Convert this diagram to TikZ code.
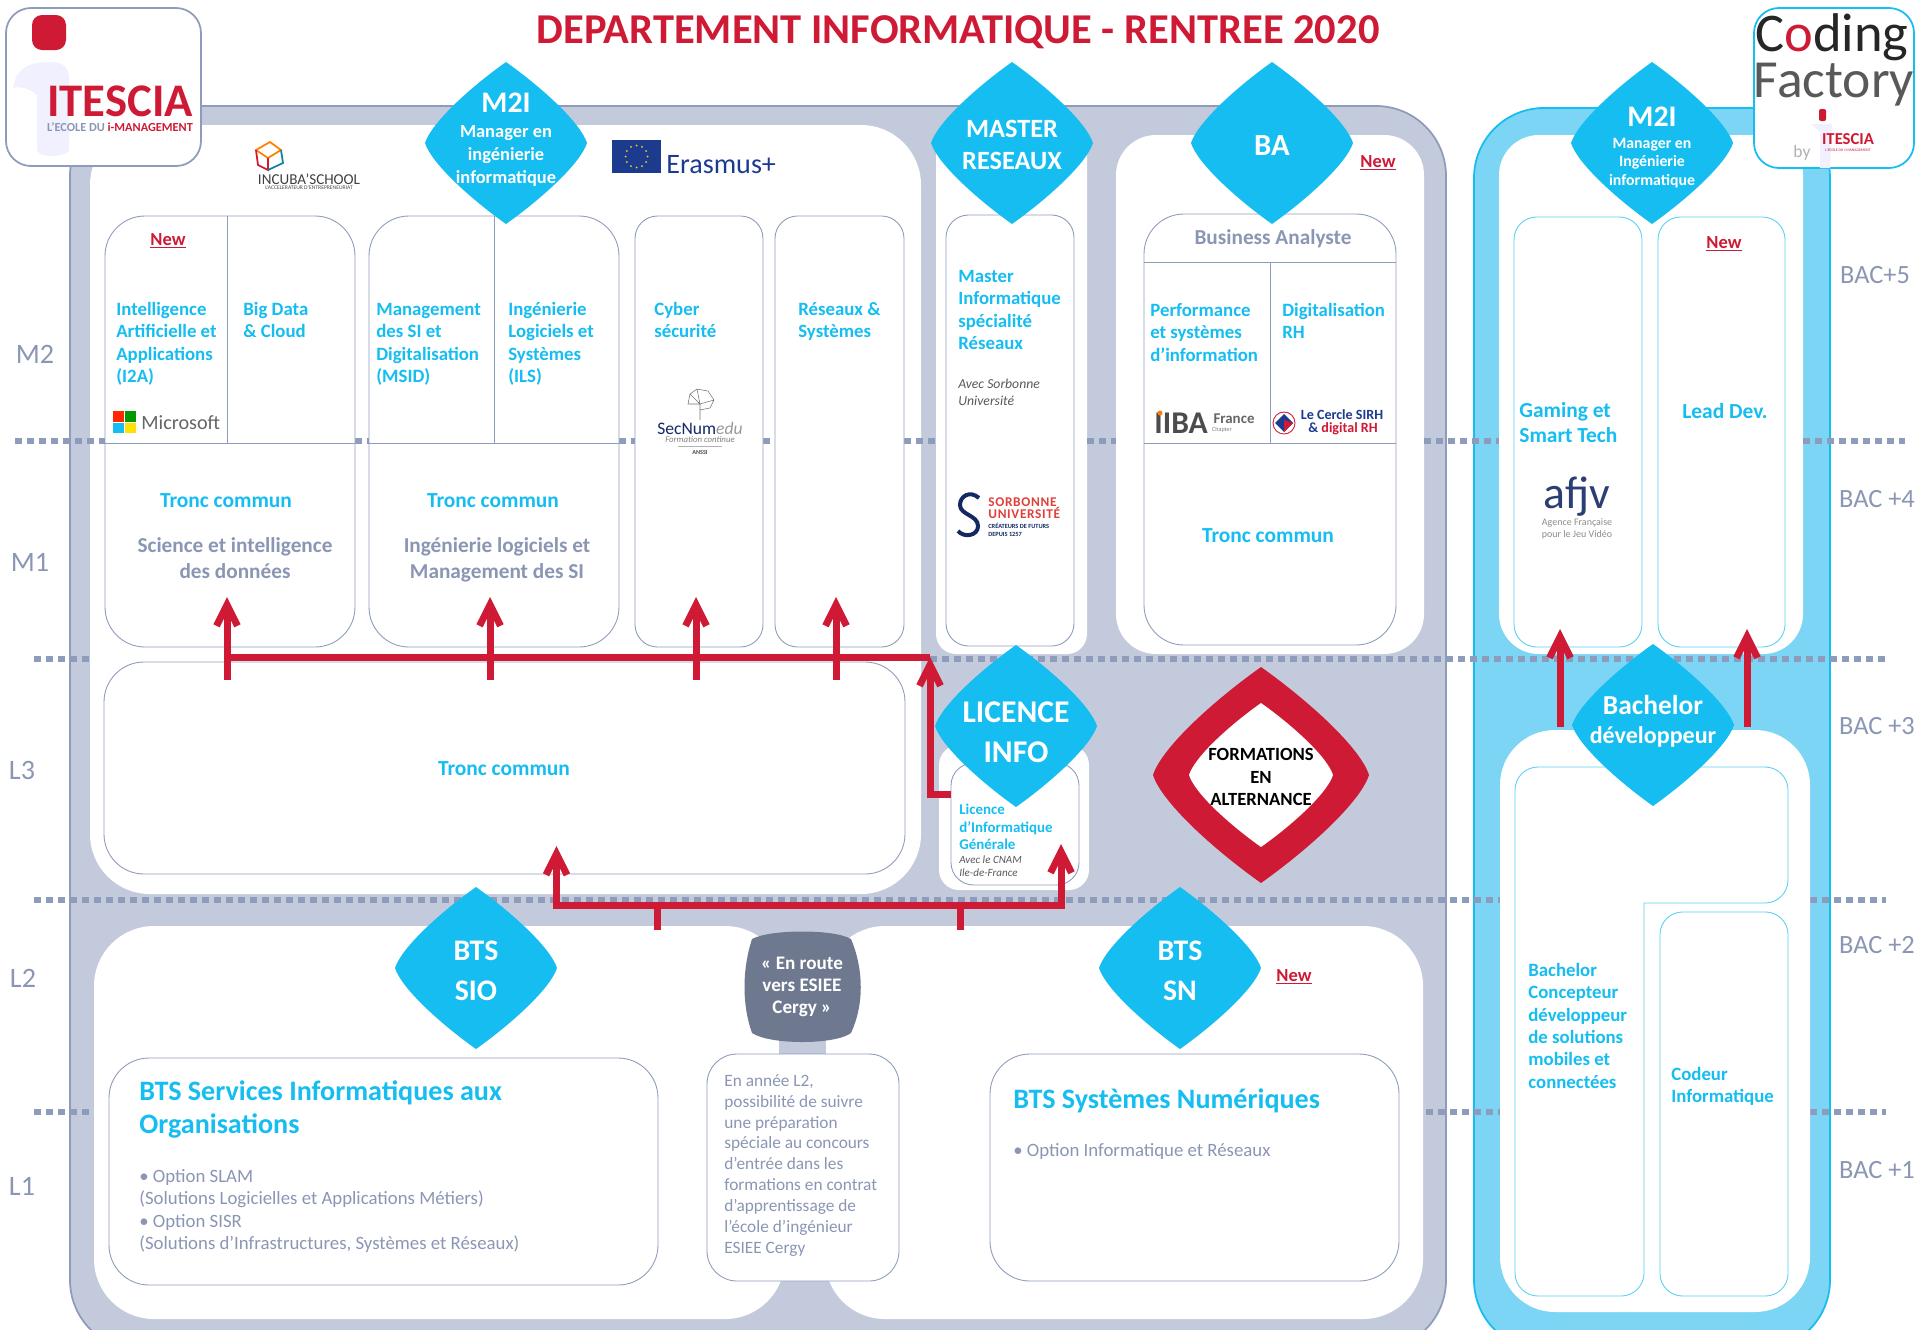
\documentclass[tikz,border=0pt]{standalone}
\usepackage{fontspec}
\setmainfont{Carlito}
\usetikzlibrary{arrows.meta}
\definecolor{panelgray}{HTML}{C3CADB}
\definecolor{edgegray}{HTML}{8E9CBC}
\definecolor{labelgray}{HTML}{8A96B4}
\definecolor{skyc}{HTML}{15BDF0}
\definecolor{panelsky}{HTML}{7DD5F5}
\definecolor{redc}{HTML}{CE1A34}
\definecolor{sorbred}{HTML}{E1403A}
\definecolor{slatec}{HTML}{6E788F}
\definecolor{navyc}{HTML}{1C3B8F}
\newcommand{\leaf}[4]{\fill[shift={(#1,#2)},x=#3*0.02cm,y=#3*-0.02cm,#4] (0,-1) .. controls (0.45,-0.68) and (0.92,-0.25) .. (1,0) .. controls (0.92,0.25) and (0.45,0.68) .. (0,1) .. controls (-0.45,0.68) and (-0.92,0.25) .. (-1,0) .. controls (-0.92,-0.25) and (-0.45,-0.68) .. (0,-1) -- cycle;}
\newcommand{\fsz}[2]{\fontsize{#1}{#2}\selectfont}
\begin{document}
\begin{tikzpicture}
    [
    x=0.02cm,y=-0.02cm,
    dots/.style = {edgegray,line width=0.12cm,dash pattern=on 0.14cm off 0.1cm},
    board/.style = {fill=white,rounded corners=#1},
    board/.default = 0.8cm,
    box/.style = {draw=edgegray,line width=0.5pt,fill=white,rounded corners=#1},
    box/.default = 0.8cm,
    skybox/.style = {draw=skyc!70,line width=0.5pt,fill=white,rounded corners=0.45cm},
    skyline/.style = {draw=skyc!70,line width=0.5pt,fill=white},
    link/.style = {redc,line width=0.14cm},
    linkto/.style = {link,-{Straight Barb[length=0.42cm,width=0.42cm]}},
    txt/.style = {inner sep=0pt,align=left,anchor=north west},
    mid/.style = {inner sep=0pt,align=center},
    sky/.style = {txt,text=skyc,font=\bfseries\fsz{10.7}{12.7}},
    skymid/.style = {mid,text=skyc,font=\bfseries\fsz{12.2}{14}},
    grayb/.style = {mid,text=labelgray,font=\bfseries\fsz{12.1}{14.5}},
    grayr/.style = {txt,text=labelgray,font=\fsz{10.7}{12.8}},
    side/.style = {mid,text=labelgray,font=\fsz{16}{18}},
    bac/.style = {mid,text=labelgray,font=\fsz{15}{16}},
    new/.style = {mid,text=redc,font=\bfseries\fsz{10.5}{11}},
    leaftxt/.style = {mid,text=white,font=\bfseries\fsz{#1}{#1}},
    tiny/.style = {mid,font=\fsz{#1}{#1}}
    ]
\clip (0,0) rectangle (1920,1329);

% panels
\draw[draw=edgegray,line width=1pt,fill=panelgray,rounded corners=1.4cm] (70,106) rectangle (1446,1350);
\draw[draw=skyc,line width=1pt,fill=panelsky,rounded corners=1.4cm] (1474,108) rectangle (1830,1350);

\foreach \yy/\xa/\xb in {659/34/90,659/930/1886,900/34/1500,900/1810/1886,1112/34/90,1112/1426/1500,1112/1810/1886}
    \draw[dots] (\xa,\yy) -- (\xb,\yy);

\fill[board=1.2cm] (90,125) rectangle (921,894);
\fill[board=0.4cm] (936,125) rectangle (1087,654);
\fill[board=0.8cm] (1116,135) rectangle (1424,654);
\fill[board=0.4cm] (939,745) rectangle (1089,890);
\fill[board=1.2cm] (94,926) rectangle (785,1319);
\fill[board=1.2cm] (825,926) rectangle (1423,1319);
\fill[board=0.8cm] (1499,135) rectangle (1803,654);
\fill[board=1.1cm] (1500,730) rectangle (1810,1312);

\foreach \xa/\xb in {15/105,355/369,619/635,763/775,904/936,1087/1116,1424/1499,1803/1905}
    \draw[dots] (\xa,441) -- (\xb,441);

% boxes
\draw[box] (105,216) rectangle (355,647);
\draw[edgegray] (105,443) -- (355,443) (227,216) -- (227,443);
\draw[box] (369,216) rectangle (619,647);
\draw[edgegray] (369,443) -- (619,443) (494,216) -- (494,443);
\draw[box=0.45cm] (635,216) rectangle (763,647);
\draw[box=0.45cm] (775,216) rectangle (904,647);
\draw[box=0.45cm] (946,215) rectangle (1074,646);
\draw[box] (1144,214) rectangle (1396,645);
\draw[edgegray] (1144,262) -- (1396,262) (1144,443) -- (1396,443) (1270,262) -- (1270,443);
\draw[box] (104,662) rectangle (905,874);
\draw[box=0.45cm] (951,763) rectangle (1079,885);
\draw[box] (109,1058) rectangle (658,1285);
\draw[box] (990,1054) rectangle (1399,1281);
\draw[skybox] (1514,217) rectangle (1642,647);
\draw[skybox] (1658,217) rectangle (1785,647);
\draw[skyline] (1515,790) arc[start angle=180,end angle=270,radius=23] -- (1765,767) arc[start angle=270,end angle=360,radius=23] -- (1788,880) arc[start angle=0,end angle=90,radius=23] -- (1644,903) -- (1644,1273) arc[start angle=0,end angle=90,radius=23] -- (1538,1296) arc[start angle=90,end angle=180,radius=23] -- cycle;
\draw[skybox] (1660,912) rectangle (1788,1296);

% en route
\fill[panelgray] (779,1035) rectangle (826,1056);
\draw[box=0.6cm] (707,1054) rectangle (899,1281);
\fill[slatec] (752,939) .. controls (770,929) and (835,929) .. (851,939) .. controls (864,970) and (864,1005) .. (851,1033) .. controls (835,1045) and (770,1045) .. (752,1033) .. controls (742,1005) and (742,970) .. (752,939) -- cycle;

% links
\coordinate (trunkw) at (227,657);
\coordinate (trunke) at (930,657);
\coordinate (licw) at (951,794);
\coordinate (sio) at (657.5,930);
\coordinate (sn) at (960,930);
\coordinate (lowa) at (556.5,905);
\coordinate (lowb) at (1061,905);
\coordinate (lowatip) at (556.5,846);
\coordinate (lowbtip) at (1061,844);
\coordinate (concep) at (1560,727);
\coordinate (concepb) at (1747,727);
\coordinate (gaming tip) at (1560,629);
\coordinate (lead tip) at (1747,629);
\foreach \xx/\nm in {227/sci,490/ing,696/cyb,836/res}{
    \coordinate (\nm foot) at (\xx,680);
    \coordinate (\nm tip) at (\xx,597);
    \draw[linkto] (\nm foot) -- (\nm tip);
}
\draw[link] (trunkw) -- (trunke);
\draw[linkto] (licw) -| (trunke);
\draw[link] (sio) -- (sio |- lowa);
\draw[link] (sn) -- (sn |- lowa);
\draw[linkto] (lowb) -- (lowbtip);
\draw[linkto] (lowa) -- (lowatip);
\draw[link,line cap=rect] (lowa) -- (lowb);
\draw[linkto] (concep) -- (gaming tip);
\draw[linkto] (concepb) -- (lead tip);

% leaves
\leaf{506}{143}{81}{skyc}
\leaf{1012}{143}{81}{skyc}
\leaf{1272}{143}{81}{skyc}
\leaf{1652}{143}{81}{skyc}
\leaf{1016}{726}{81}{skyc}
\leaf{476}{968}{81}{skyc}
\leaf{1180}{968}{81}{skyc}
\leaf{1653}{725}{81}{skyc}
\leaf{1261}{775}{108}{redc}
\leaf{1261}{775}{72}{white}

% title and levels
\node[mid,text=redc,font=\bfseries\fsz{24.2}{26}] (title) at (958,32) {DEPARTEMENT INFORMATIQUE - RENTREE 2020};
\node[side] (mtwo) at (35,354) {M2};
\node[side] (mone) at (30,562) {M1};
\node[side] (lthree) at (22,770) {L3};
\node[side] (ltwo) at (23,978) {L2};
\node[side] (lone) at (22,1186) {L1};
\node[bac] (bfive) at (1875,275) {BAC+5};
\node[bac] (bfour) at (1877,499) {BAC +4};
\node[bac] (bthree) at (1877,726) {BAC +3};
\node[bac] (btwo) at (1877,945) {BAC +2};
\node[bac] (bone) at (1877,1170) {BAC +1};

% leaf texts
\node[leaftxt=17] (mtitle) at (506,103) {M2I};
\node[leaftxt=10.5] (msub) at (506,156) {Manager en\\[2.5pt]ingénierie\\[2.5pt]informatique};
\node[leaftxt=15] (master) at (1012,145) {MASTER\\[3.5pt]RESEAUX};
\node[leaftxt=17.5] (ba) at (1272,146) {BA};
\node[leaftxt=17] (mrtitle) at (1652,117) {M2I};
\node[leaftxt=9] (mrsub) at (1652,163) {Manager en\\[1.5pt]Ingénierie\\[1.5pt]informatique};
\node[leaftxt=18] (licence) at (1016,732) {LICENCE\\[4.5pt]INFO};
\node[leaftxt=17] (sioname) at (476,971) {BTS\\[5.5pt]SIO};
\node[leaftxt=17] (snname) at (1180,971) {BTS\\[5.5pt]SN};
\node[leaftxt=15.6] (bachelor) at (1653,705) {Bachelor};
\node[leaftxt=13.7] (devel) at (1653,737) {développeur};
\node[mid,text=black,font=\bfseries\fsz{10.6}{12.8}] (altern) at (1261,777) {FORMATIONS\\EN\\ALTERNANCE};
\node[mid,text=white,font=\bfseries\fsz{10.9}{12.7}] (route) at (802,987) {« En route\\vers ESIEE\\Cergy »};

% new
\node[new] (newa) at (168,241) {\underline{New}};
\node[new] (newb) at (1378,163) {\underline{New}};
\node[new] (newc) at (1724,244) {\underline{New}};
\node[new] (newd) at (1294,977) {\underline{New}};

% box texts
\node[sky] (iia) at (116,302) {Intelligence\\Artificielle et\\Applications\\(I2A)};
\node[sky] (bigd) at (243,302) {Big Data\\\& Cloud};
\node[sky] (msid) at (376,303) {Management\\des SI et\\Digitalisation\\(MSID)};
\node[sky] (ils) at (508,302) {Ingénierie\\Logiciels et\\Systèmes\\(ILS)};
\node[sky] (cyber) at (654,302) {Cyber\\sécurité};
\node[sky] (resys) at (798,302) {Réseaux \&\\Systèmes};
\node[skymid] (troncsci) at (226,501) {Tronc commun};
\node[grayb] (scidon) at (235,558) {Science et intelligence\\des données};
\node[skymid] (troncing) at (493,501) {Tronc commun};
\node[grayb] (inglog) at (497,560) {Ingénierie logiciels et\\Management des SI};
\node[skymid] (troncl) at (504,769) {Tronc commun};
\node[sky] (minfo) at (958,270) {Master\\Informatique\\spécialité\\Réseaux};
\node[txt,text=black!65,font=\itshape\fsz{7.8}{9.2}] (avec) at (958,379) {Avec Sorbonne\\Université};
\node[grayb] (busi) at (1273,239) {Business Analyste};
\node[sky] (perf) at (1150,303) {Performance\\et systèmes\\d’information};
\node[sky] (digi) at (1282,303) {Digitalisation\\RH};
\node[skymid] (troncba) at (1268,536) {Tronc commun};
\node[txt,text=skyc,font=\bfseries\fsz{8.5}{9.9}] (licgen) at (959,804) {Licence\\d’Informatique\\Générale};
\node[txt,text=black!65,font=\itshape\fsz{6.3}{7.5}] (cnam) at (959,855) {Avec le CNAM\\Ile-de-France};
\node[txt,text=skyc,font=\bfseries\fsz{16}{18.9}] (btssio) at (139,1080) {BTS Services Informatiques aux\\Organisations};
\node[grayr] (optsio) at (139,1169) {• Option SLAM\\(Solutions Logicielles et Applications Métiers)\\• Option SISR\\(Solutions d’Infrastructures, Systèmes et Réseaux)};
\node[txt,text=skyc,font=\bfseries\fsz{16}{18.7}] (btsnum) at (1013,1088) {BTS Systèmes Numériques};
\node[grayr] (optsn) at (1013,1143) {• Option Informatique et Réseaux};
\node[txt,text=labelgray,font=\fsz{9.85}{11.9}] (prepa) at (724,1074) {En année L2,\\possibilité de suivre\\une préparation\\spéciale au concours\\d’entrée dans les\\formations en contrat\\d’apprentissage de\\l’école d’ingénieur\\ESIEE Cergy};
\node[txt,text=skyc,font=\bfseries\fsz{12.2}{14.4}] (gaming) at (1519,402) {Gaming et\\Smart Tech};
\node[skymid] (lead) at (1725,411) {Lead Dev.};
\node[sky] (concepteur) at (1528,963) {Bachelor\\Concepteur\\développeur\\de solutions\\mobiles et\\connectées};
\node[sky] (codeur) at (1671,1067) {Codeur\\Informatique};

% logo itescia
\draw[draw=edgegray,line width=1pt,fill=white,rounded corners=0.5cm] (6,8) rectangle (201,166);
\fill[redc,rounded corners=0.2cm] (32,15) rectangle (66,50);
\fill[black!8!blue!6!white] (13,88) .. controls (16,70) and (26,62) .. (50,62) .. controls (64,62) and (69,68) .. (69,80) -- (69,150) .. controls (69,156) and (40,160) .. (37,150) -- (37,95) .. controls (30,88) and (18,86) .. (13,88) -- cycle;
\node[mid,text=redc,font=\bfseries\fsz{26.6}{26}] (itescia) at (120,101) {ITESCIA};
\node[mid,font=\bfseries\fsz{7}{8}] (ecole) at (120,127) {\textcolor{labelgray}{L’ECOLE DU} \textcolor{redc}{i-MANAGEMENT}};

% logo coding factory
\draw[draw=skyc,line width=1pt,fill=white,rounded corners=0.5cm] (1754,8) rectangle (1914,168);
\node[mid,text=black!85,font=\fsz{31}{32}] (coding) at (1832,37) {C\textcolor{redc}{o}ding};
\node[mid,text=black!65,font=\fsz{30.5}{33}] (factory) at (1834,85) {Factory};
\fill[redc,rounded corners=0.04cm] (1819,109) rectangle (1826,121);
\fill[black!8!blue!6!white] (1811,124) -- (1832,124) -- (1830,168) -- (1820,168) -- (1820,132) -- cycle;
\node[mid,text=black!30,font=\fsz{10}{11}] (byline) at (1802,153) {by};
\node[mid,text=redc,font=\bfseries\fsz{9.5}{10}] (itesciab) at (1848,139) {ITESCIA};
\node[tiny=2.2,text=redc] (ecoleb) at (1848,150) {L’ECOLE DU i-MANAGEMENT};

% logo incuba
\draw[orange,line width=1pt] (256,150) -- (270,142) -- (281,150) -- (268,158) -- cycle;
\draw[redc,line width=1pt] (256,150) -- (258,165) -- (268,170) -- (268,158);
\draw[skyc!70!black,line width=1pt] (281,150) -- (283,163) -- (268,170);
\node[tiny=8.6,text=black!75] (incuba) at (309,179) {INCUBA’SCHOOL};
\node[tiny=3.2,text=black!70] (accel) at (309,188) {L’ACCELERATEUR D’ENTREPRENEURIAT};

% logo erasmus
\fill[navyc] (612,140) rectangle (661,173);
\foreach \aa in {0,30,...,330}
    \fill[yellow!90!black] (636.5,156.5) ++(\aa:11) circle (1);
\node[tiny=16,text=navyc,anchor=west] (erasmus) at (666,165) {Erasmus+};

% logo microsoft
\fill[orange!30!red] (113,411) rectangle (124,421.5);
\fill[green!60!black] (125,411) rectangle (136,421.5);
\fill[skyc] (113,422.5) rectangle (124,433);
\fill[yellow!85!orange] (125,422.5) rectangle (136,433);
\node[tiny=11.5,text=black!60,anchor=west] (micro) at (141,423) {Microsoft};

% logo secnum
\draw[black!55,line width=0.3pt] (700,420) -- (700,404) (700,404) -- (690,394) -- (697,389) -- (708,391) -- (714,400) -- (700,404) (697,389) -- (700,404) -- (688,404) -- (690,394) (700,410) -- (710,408) -- (714,400);
\node[tiny=10,anchor=center] (secnum) at (700,428) {\textcolor{navyc!70!black}{SecNum}\textcolor{black!40}{\itshape edu}};
\node[tiny=5,text=black!50] (formc) at (700,439) {\itshape Formation continue};
\draw[black!30,line width=0.3pt] (678,446) -- (722,446);
\node[tiny=3.5,text=black!70] (anssi) at (700,452) {\bfseries ANSSI};

% logo sorbonne
\draw[navyc!70!black,line width=0.08cm] (979,498) .. controls (970,490) and (960,496) .. (960,505) .. controls (960,515) and (978,515) .. (978,526) .. controls (978,536) and (964,538) .. (958,531);
\node[tiny=8,text=sorbred,anchor=north west,align=left,font=\bfseries\fsz{7.6}{6.9}\addfontfeature{LetterSpace=5}] (sorb) at (988,497) {SORBONNE\\UNIVERSITÉ};
\node[tiny=3.6,text=navyc!70!black,anchor=north west,align=left,font=\bfseries\fsz{3.6}{4.2}] (futurs) at (988,523) {CRÉATEURS DE FUTURS\\DEPUIS 1257};

% logo iiba
\node[tiny=19,text=black!70,font=\bfseries\fsz{18}{19},anchor=west] (iiba) at (1154,423) {IIBA};
\fill[orange] (1160,413) circle (2.5);
\node[tiny=8.5,text=black!60,font=\bfseries\fsz{8.5}{9}] (france) at (1234,419) {France};
\node[tiny=3.5,text=black!50] (chapter) at (1222,430) {Chapter};

% logo cercle
\draw[redc,line width=0.5pt] (1284,423) circle (11);
\fill[navyc] (1284,414) -- (1293,423) -- (1284,432) -- (1275,423) -- cycle;
\fill[redc] (1284,420) -- (1293,423) -- (1284,432) -- cycle;
\node[tiny=8,text=navyc,font=\bfseries\fsz{8}{9}] (cercle) at (1342,415) {Le Cercle SIRH};
\node[tiny=8,font=\bfseries\fsz{8}{9}] (drh) at (1343,429) {\textcolor{navyc}{\&} \textcolor{redc}{digital RH}};

% logo afjv
\node[tiny=26,text=navyc!70!black!90] (afjv) at (1577,497) {afjv};
\node[tiny=5.7,text=black!45,align=center,font=\fsz{5.7}{6.8}] (agence) at (1577,529) {Agence Française\\pour le Jeu Vidéo};

\end{tikzpicture}
\end{document}
